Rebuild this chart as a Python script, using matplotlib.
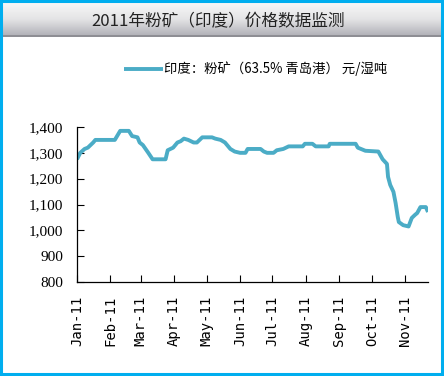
"""Recreate the 2011 India fines iron ore price chart."""

import matplotlib
matplotlib.use("Agg")
import matplotlib.pyplot as plt
import matplotlib.dates as mdates
import numpy as np
import pandas as pd
from matplotlib.patches import Rectangle

plt.rcParams["font.family"] = ["Noto Sans CJK SC", "DejaVu Sans"]

TITLE = "2011年粉矿（印度）价格数据监测"
SERIES_LABEL = "印度：粉矿（63.5% 青岛港） 元/湿吨"

# day offsets from 2011-01-01 and price (yuan / wet ton)
day_offsets = [0, 3, 7, 10, 15, 17, 35, 40, 48, 51, 56, 58, 61, 66, 70, 82,
               84, 89, 93, 96, 99, 103, 108, 111, 116, 125, 128, 133, 137, 142,
               146, 151, 156, 158, 170, 173, 176, 182, 185, 191, 196, 209, 211,
               218, 221, 233, 234, 258, 260, 267, 279, 283, 287, 288, 290, 293,
               295, 297, 298, 302, 307, 310, 313, 315, 318, 323, 325]
prices = [1275, 1300, 1315, 1320, 1340, 1350, 1350, 1385, 1385, 1365, 1360,
          1340, 1330, 1300, 1275, 1275, 1310, 1320, 1340, 1345, 1355, 1350,
          1340, 1340, 1360, 1360, 1355, 1350, 1340, 1315, 1305, 1300, 1300,
          1315, 1315, 1305, 1300, 1300, 1310, 1315, 1325, 1325, 1335, 1335,
          1325, 1325, 1335, 1335, 1320, 1308, 1305, 1275, 1257, 1207, 1176,
          1149, 1106, 1052, 1032, 1020, 1015, 1048, 1060, 1067, 1090, 1090, 1071]

y_ticks = [800, 900, 1000, 1100, 1200, 1300, 1400]

dates = pd.Timestamp("2011-01-01") + pd.to_timedelta(day_offsets, unit="D")

fig = plt.figure(figsize=(4.44, 3.76), dpi=100)
fig.patch.set_facecolor("white")

# cyan frame and grey gradient title band
bg = fig.add_axes([0, 0, 1, 1], zorder=-10)
bg.set_xlim(0, 444)
bg.set_ylim(376, 0)
bg.axis("off")
grad = np.linspace(0, 1, 64).reshape(-1, 1)
bg.imshow(grad, extent=[3, 441, 35, 3], aspect="auto",
          cmap=matplotlib.colors.LinearSegmentedColormap.from_list(
              "band", ["#f7f7f7", "#e4e4e6", "#b4b4ba"]))
bg.add_patch(Rectangle((3, 35), 438, 2, color="#8e8e94", lw=0))
bg.add_patch(Rectangle((1, 1), 441, 373, fill=False, ec="#00aeef", lw=2.2))
bg.text(218, 22, TITLE, ha="center", va="center", fontsize=12,
        color="#222222")

ax = fig.add_axes([77 / 444, 1 - 282 / 376, (428 - 77) / 444, (282 - 127) / 376])
ax.plot(dates, prices, color="#4bacc6", lw=2.8, label=SERIES_LABEL,
        solid_capstyle="butt")

ax.set_ylim(800, 1400)
ax.set_yticks(y_ticks)
ax.set_yticklabels([f"{v:,}" for v in y_ticks], family="Liberation Serif",
                   fontsize=11)
ax.set_xlim(pd.Timestamp("2011-01-01"), pd.Timestamp("2011-11-22"))
ax.xaxis.set_major_locator(mdates.MonthLocator())
ax.xaxis.set_major_formatter(mdates.DateFormatter("%b-%y"))
for lbl in ax.get_xticklabels():
    lbl.set_rotation(90)
    lbl.set_family("DejaVu Sans Mono")
    lbl.set_fontsize(10)
ax.tick_params(direction="in", length=5, width=0.8, color="black")
ax.tick_params(axis="x", pad=10)
ax.tick_params(axis="y", pad=10)
for side in ("top", "right"):
    ax.spines[side].set_visible(False)
for side in ("left", "bottom"):
    ax.spines[side].set_linewidth(0.9)

fig.legend(loc="center", bbox_to_anchor=(256 / 444, 1 - 69 / 376), frameon=False,
           fontsize=9.6, handlelength=2.9, handletextpad=0.1)

fig.savefig("out.png", dpi=100)
